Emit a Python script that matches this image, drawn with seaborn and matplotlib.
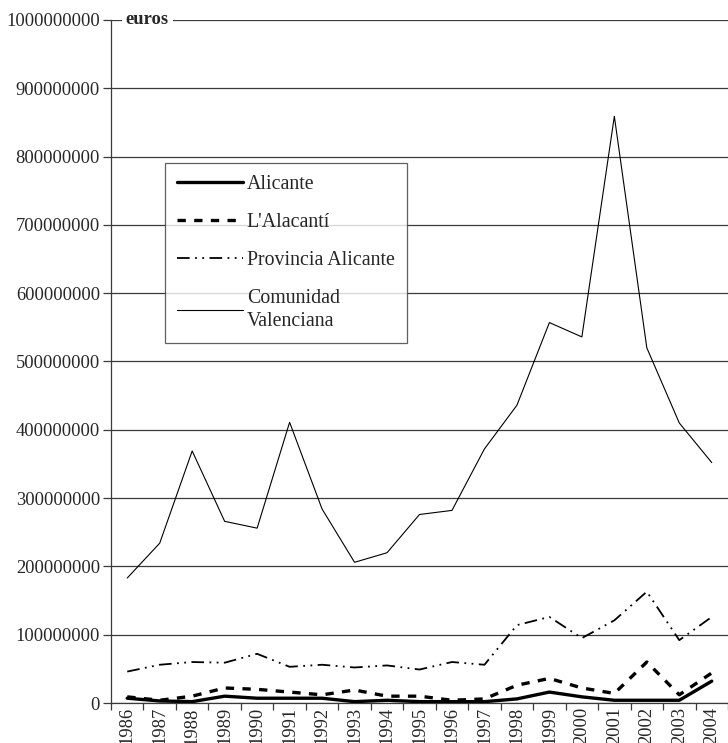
import numpy as np
import pandas as pd
import matplotlib
matplotlib.use("Agg")
import matplotlib.pyplot as plt
import seaborn as sns

years = [str(y) for y in range(1986, 2005)]
alicante = [7, 3, 2, 10, 7, 7, 7, 2, 4, 2, 2, 2, 6, 16, 9, 4, 4, 4, 32]
alacanti = [9, 4, 10, 22, 20, 16, 12, 19, 10, 10, 4, 6, 26, 36, 22, 14, 60, 12, 44]
provincia = [46, 56, 60, 59, 72, 53, 56, 52, 55, 49, 60, 56, 114, 126, 95, 121, 163, 92, 126]
comunidad = [183, 234, 369, 266, 256, 411, 284, 206, 220, 276, 282, 372, 436, 557, 536, 859, 520, 410, 352]
series_names = ["Alicante", "L'Alacantí", "Provincia Alicante", "Comunidad\nValenciana"]
yticks = list(range(0, 1000000001, 100000000))

sns.set_theme(style="white")
plt.rcParams['font.family'] = ['Liberation Serif', 'DejaVu Serif']

fig = plt.figure(figsize=(7.28, 7.43), dpi=100)
ax = fig.add_axes([111/728, 1 - 703/743, (728 - 111)/728, (703 - 20)/743])

x = np.arange(len(years))
scale = 1e6
styles = [
    dict(color="black", lw=2.4, ls="-"),
    dict(color="black", lw=2.4, ls=(0, (2.5, 2.5))),
    dict(color="black", lw=1.3, ls=(0, (7, 3, 1, 3, 1, 3))),
    dict(color="black", lw=0.8, ls="-"),
]
data = [alicante, alacanti, provincia, comunidad]
for name, vals, st in zip(series_names, data, styles):
    df = pd.DataFrame({"x": x, "y": np.array(vals) * scale})
    sns.lineplot(data=df, x="x", y="y", ax=ax, label=name, color=st["color"],
                 linewidth=st["lw"], linestyle=st["ls"], zorder=3)

ax.set_ylim(0, 1e9)
ax.set_xlim(-0.5, 18.29)
ax.set_yticks(yticks)
ax.set_yticklabels([str(t) for t in yticks], fontsize=13.3)
ax.yaxis.grid(True, color="#3a3a3a", lw=0.9)
ax.set_axisbelow(True)
ax.set_xticks(x)
ax.set_xticklabels(years, rotation=90, fontsize=13.3)
ax.set_xticks(np.arange(-0.5, 18.6, 1), minor=True)
ax.tick_params(axis="x", which="major", length=0, pad=3)
ax.tick_params(axis="x", which="minor", length=5, width=0.9, color="#3a3a3a", direction="out", bottom=True)
ax.tick_params(axis="y", length=6, width=0.9, color="#3a3a3a", direction="out", left=True, pad=2)
ax.set_xlabel("")
ax.set_ylabel("")
for s in ["top", "right"]:
    ax.spines[s].set_visible(False)
for s in ["left", "bottom"]:
    ax.spines[s].set_color("#3a3a3a")
    ax.spines[s].set_linewidth(0.9)

ax.text(0.024, 1.0, "euros", transform=ax.transAxes, fontsize=13.3, fontweight="bold",
        va="center", ha="left", zorder=5,
        bbox=dict(facecolor="white", edgecolor="none", pad=3))

leg = ax.legend(loc="upper left", bbox_to_anchor=(0.088, 0.79), fontsize=14.3,
                frameon=True, fancybox=False, edgecolor="#3a3a3a", handlelength=3.3,
                labelspacing=0.95, handletextpad=0.2, borderpad=0.6, borderaxespad=0)
leg.get_frame().set_linewidth(0.9)
for t in leg.get_texts():
    t.set_linespacing(1.3)

fig.savefig("out.png", dpi=100)
